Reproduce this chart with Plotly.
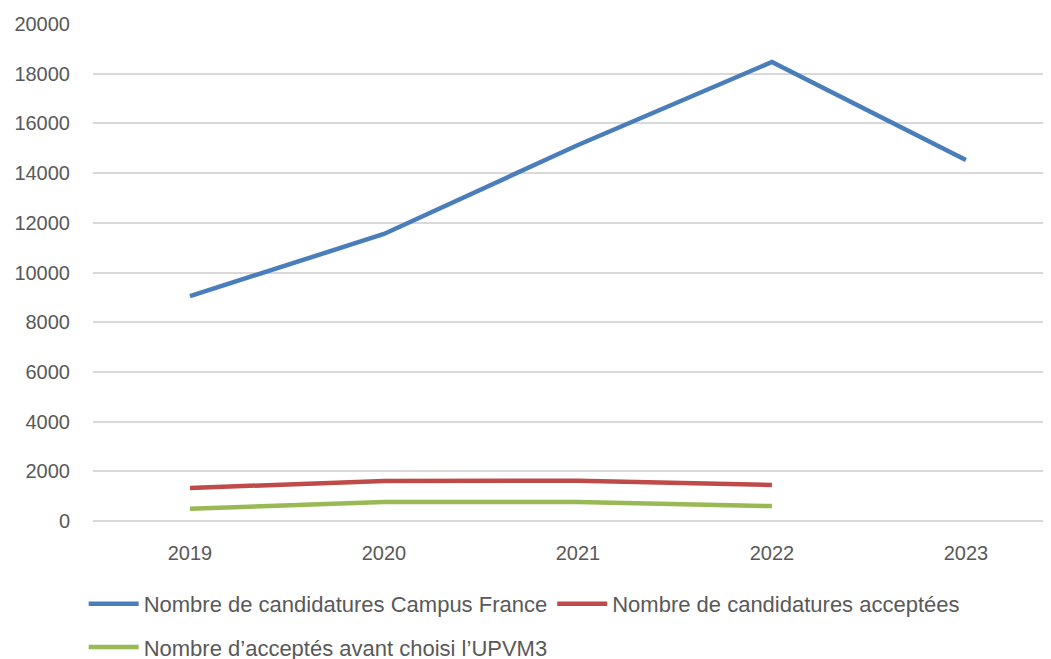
import plotly.graph_objects as go

years = ["2019", "2020", "2021", "2022", "2023"]
campus_france = [9050, 11550, 15130, 18470, 14530]
acceptees = [1330, 1610, 1620, 1450]
upvm3 = [490, 760, 760, 600]

font_txt = "Liberation Sans, Arial, sans-serif"

fig = go.Figure()
fig.add_trace(go.Scatter(x=years, y=campus_france, mode="lines",
                         name="Nombre de candidatures Campus France",
                         line=dict(color="#4A7EBB", width=4.5), legend="legend"))
fig.add_trace(go.Scatter(x=years[:4], y=acceptees, mode="lines",
                         name="Nombre de candidatures acceptées",
                         line=dict(color="#BE4B48", width=4.5), legend="legend"))
fig.add_trace(go.Scatter(x=years[:4], y=upvm3, mode="lines",
                         name="Nombre d’acceptés avant choisi l’UPVM3",
                         line=dict(color="#98B954", width=4.5), legend="legend2"))

# the page puts the figure 8px in from the top-left corner
fig.update_layout(
    width=1051, height=659,
    margin=dict(l=85, r=0, t=16, b=146),
    paper_bgcolor="white", plot_bgcolor="white",
    font=dict(family=font_txt, size=20, color="#595959"),
    xaxis=dict(type="category", range=[-0.5, 4.48], showgrid=False,
               showline=False, ticks="", ticklabelstandoff=18,
               tickfont=dict(size=20, color="#595959")),
    yaxis=dict(range=[0, 20000], dtick=2000, tickformat="d", showgrid=True,
               gridcolor="#D9D9D9", gridwidth=1.5, zeroline=True,
               zerolinecolor="#D9D9D9", zerolinewidth=1.5,
               ticks="", ticklabelstandoff=22,
               tickfont=dict(size=20, color="#595959")),
    legend=dict(orientation="h", xref="container", yref="container",
                x=0.072, y=0.0956, xanchor="left", yanchor="middle",
                itemwidth=50, font=dict(size=22, family=font_txt),
                bgcolor="rgba(0,0,0,0)"),
    legend2=dict(orientation="h", xref="container", yref="container",
                 x=0.072, y=0.03, xanchor="left", yanchor="middle",
                 itemwidth=50, font=dict(size=22, family=font_txt),
                 bgcolor="rgba(0,0,0,0)"),
)

fig.write_html("out.html")
